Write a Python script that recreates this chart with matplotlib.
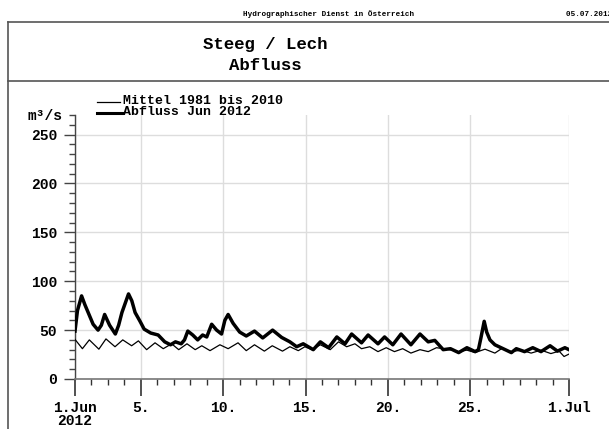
import datetime
import matplotlib
matplotlib.use('Agg')
import matplotlib.pyplot as plt
import matplotlib.dates as md
import matplotlib.ticker as mt
from matplotlib.lines import Line2D
import numpy as np

start = datetime.datetime(2012, 6, 1)

# Abfluss Jun 2012 (days after 1.Jun 00:00, m3/s)
main_days = [0.0, 0.15, 0.4, 0.6, 0.8, 1.1, 1.4, 1.6, 1.8, 2.1, 2.45, 2.65, 2.85,
             3.25, 3.45, 3.65, 3.95, 4.2, 4.6, 5.05, 5.45, 5.8, 6.1, 6.45, 6.65,
             6.85, 7.15, 7.45, 7.75, 8.0, 8.3, 8.6, 8.9, 9.1, 9.3, 9.6, 10.0, 10.4,
             10.9, 11.4, 12.0, 12.55, 13.05, 13.46, 13.86, 14.47, 14.9, 15.4, 15.9,
             16.4, 16.8, 17.4, 17.8, 18.4, 18.8, 19.3, 19.8, 20.4, 20.95, 21.45,
             21.85, 22.36, 22.8, 23.3, 23.8, 24.3, 24.5, 24.65, 24.85, 25.0, 25.2,
             25.5, 26.0, 26.5, 26.8, 27.3, 27.8, 28.3, 28.85, 29.3, 29.75, 30.0]
main_q = [49, 70, 85, 76, 68, 56, 50, 55, 66, 55, 46, 55, 68,
          87, 80, 68, 59, 51, 47, 45, 38, 35, 38, 36, 40,
          49, 45, 40, 45, 43, 56, 50, 46, 60, 66, 57, 48, 44,
          49, 42, 50, 42.5, 38, 33, 36, 30, 38, 32, 43,
          36, 46, 37, 45, 36, 43, 35, 46, 35, 46, 38,
          39.5, 30, 31, 27, 32, 28, 30, 42, 59, 48, 40,
          35, 31, 27, 31, 28, 32, 28, 34, 28.5, 32, 30]

# Mittel 1981 bis 2010
mean_days = [0.0, 0.45, 0.87, 1.45, 1.88, 2.43, 2.9, 3.44, 3.85, 4.35, 4.86, 5.36,
             5.87, 6.3, 6.8, 7.3, 7.7, 8.2, 8.8, 9.3, 9.9, 10.4, 10.9, 11.5, 11.98,
             12.6, 13.05, 13.56, 13.96, 14.4, 14.9, 15.5, 16.0, 16.5, 17.0, 17.4,
             17.9, 18.4, 18.9, 19.4, 19.9, 20.4, 20.95, 21.45, 21.95, 22.4, 22.9,
             23.3, 23.8, 24.3, 24.9, 25.5, 25.9, 26.5, 27.1, 27.7, 28.3, 28.9,
             29.4, 29.7, 30.0]
mean_q = [40.5, 31, 40, 30.5, 41, 33, 40, 34, 39, 30, 37, 31,
          36, 30, 36, 30, 34, 29, 35, 31, 37, 29, 35, 28.5, 34,
          28.5, 33, 29, 33, 30, 35, 30, 38, 33, 36, 31,
          33, 28, 32, 28, 31, 26.5, 30, 28, 32, 31, 29.5,
          28, 29.5, 27, 30.5, 26.5, 31, 28, 29.5, 26.5, 29.5, 26,
          28.5, 23, 25.5]

tick_days = [0, 4, 9, 14, 19, 24, 30]
tick_labels = ['1.Jun\n2012', '5.', '10.', '15.', '20.', '25.', '1.Jul']

t0 = md.date2num(start)
main_x = [t0 + d for d in main_days]
mean_x = [t0 + d for d in mean_days]

mono = 'Liberation Mono'
W, H = 609, 429
fig = plt.figure(figsize=(W / 100., H / 100.), dpi=100)

# frame lines of the sheet
frame = '#555555'
fig.add_artist(Line2D([8 / W, 8 / W], [0, 1 - 22 / H], transform=fig.transFigure, color=frame, lw=1.2))
fig.add_artist(Line2D([8 / W, 1], [1 - 22 / H, 1 - 22 / H], transform=fig.transFigure, color=frame, lw=1.2))
fig.add_artist(Line2D([8 / W, 1], [1 - 81 / H, 1 - 81 / H], transform=fig.transFigure, color=frame, lw=1.2))

fig.text(329 / W, 1 - 14 / H, 'Hydrographischer Dienst in Österreich', family=mono,
         weight='bold', fontsize=5.5, ha='center', va='center')
fig.text(566 / W, 1 - 14 / H, '05.07.2012 09:00', family=mono, weight='bold',
         fontsize=5.5, ha='left', va='center', clip_on=True)
fig.text(265.5 / W, 1 - 44 / H, 'Steeg / Lech', family=mono, weight='bold',
         fontsize=12.5, ha='center', va='center')
fig.text(265.5 / W, 1 - 66 / H, 'Abfluss', family=mono, weight='bold',
         fontsize=12.5, ha='center', va='center')

ax = fig.add_axes([75 / W, 1 - 379 / H, 494 / W, 264 / H])
ax.plot(mean_x, mean_q, color='black', lw=0.9, zorder=3)
ax.plot(main_x, main_q, color='black', lw=2.5, zorder=4)

ax.set_xlim(t0, t0 + 30)
ax.set_ylim(0, 270)

ax.xaxis.set_major_locator(mt.FixedLocator([t0 + d for d in tick_days]))
ax.xaxis.set_major_formatter(mt.FixedFormatter(tick_labels))
ax.xaxis.set_minor_locator(mt.FixedLocator([t0 + d for d in range(31)]))
ax.yaxis.set_major_locator(mt.MultipleLocator(50))
ax.yaxis.set_minor_locator(mt.MultipleLocator(10))

ax.grid(True, which='major', color='#dddddd', lw=1.0, zorder=0)
for s in ['top', 'right']:
    ax.spines[s].set_visible(False)
ax.spines['left'].set_color('#444444')
ax.spines['bottom'].set_color('#777777')
ax.spines['left'].set_linewidth(1.0)
ax.spines['bottom'].set_linewidth(1.2)

ax.tick_params(axis='y', which='major', length=8, width=1, pad=5, color='#444444')
ax.tick_params(axis='y', which='minor', length=4, width=1, color='#444444')
ax.tick_params(axis='x', which='major', length=12, width=1.2, pad=4, color='#333333')
ax.tick_params(axis='x', which='minor', length=4, width=1, color='#333333')
for lab in ax.get_xticklabels() + ax.get_yticklabels():
    lab.set_family(mono)
    lab.set_weight('bold')
    lab.set_fontsize(10.5)
for lab in ax.get_xticklabels():
    lab.set_linespacing(0.9)

fig.text(28 / W, 1 - 116 / H, 'm³/s', family=mono, weight='bold', fontsize=10.5,
         ha='left', va='center')

# legend
fig.add_artist(Line2D([97 / W, 120 / W], [1 - 102 / H, 1 - 102 / H], transform=fig.transFigure,
                      color='black', lw=0.9))
fig.add_artist(Line2D([97 / W, 122 / W], [1 - 113 / H, 1 - 113 / H], transform=fig.transFigure,
                      color='black', lw=2.2))
fig.text(123 / W, 1 - 101 / H, 'Mittel 1981 bis 2010', family=mono, weight='bold',
         fontsize=9.5, ha='left', va='center')
fig.text(123 / W, 1 - 112 / H, 'Abfluss Jun 2012', family=mono, weight='bold',
         fontsize=9.5, ha='left', va='center')

fig.savefig('out.png', dpi=100)
